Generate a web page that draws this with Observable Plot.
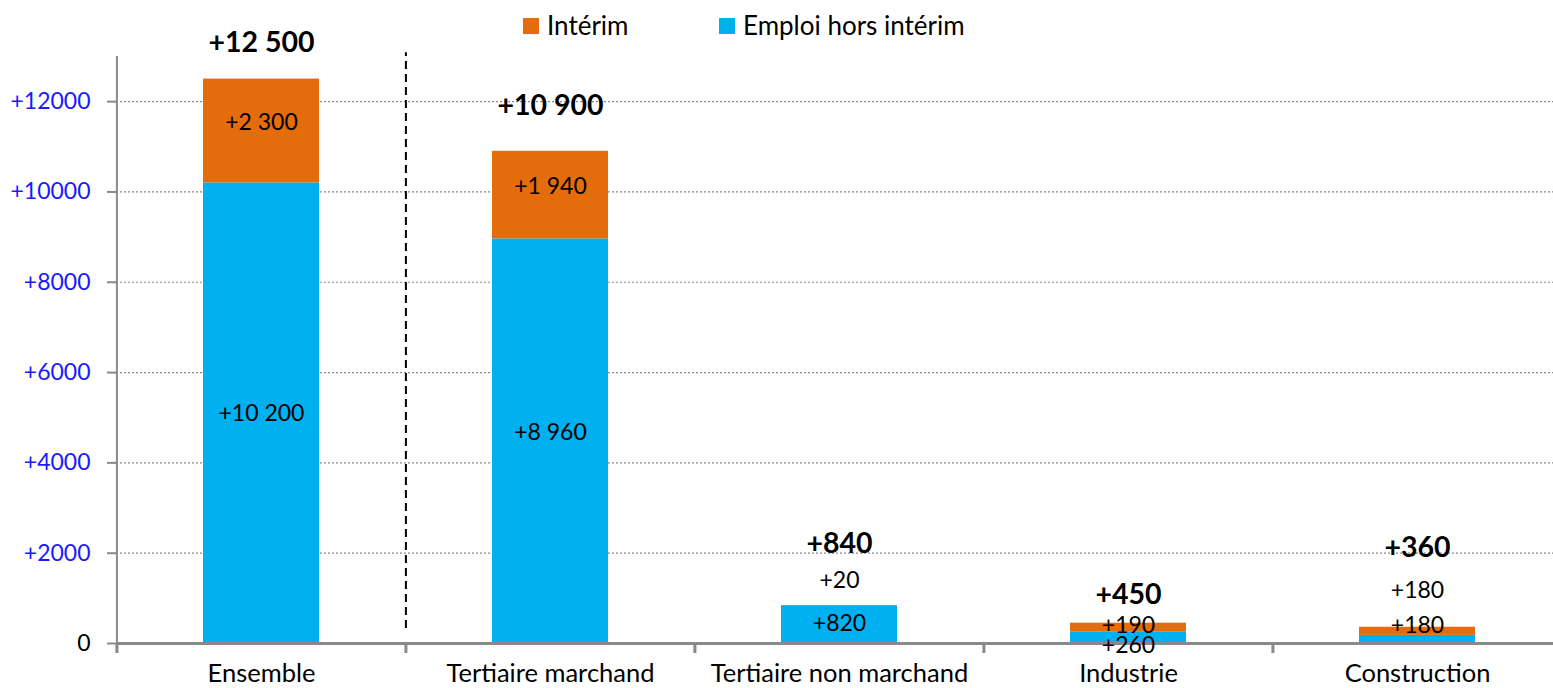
<!DOCTYPE html>
<html><head><meta charset="utf-8">
<script src="https://cdn.jsdelivr.net/npm/d3@7"></script>
<script src="https://cdn.jsdelivr.net/npm/@observablehq/plot@0.6"></script>
<style>
body{margin:0;background:#fff;}
#wrap{position:relative;width:1553px;height:688px;overflow:hidden;font-family:Lato,"Open Sans",sans-serif;}
#legend{position:absolute;top:0;left:0;width:1553px;height:50px;}
.sw{position:absolute;top:18px;width:16px;height:16px;}
.lt{position:absolute;top:8px;font-size:26px;line-height:34px;color:#000;white-space:nowrap;}
</style></head>
<body><div id="wrap"><div id="chart"></div><div id="legend"></div></div>
<script>
const categories = ["Ensemble", "Tertiaire marchand", "Tertiaire non marchand", "Industrie", "Construction"];
const seriesNames = ["Emploi hors intérim", "Intérim"];
const horsInterim = [10200, 8960, 820, 260, 180];
const interim = [2300, 1940, 20, 190, 180];
const totals = [12500, 10900, 840, 450, 360];
const totalLabels = ["+12 500", "+10 900", "+840", "+450", "+360"];
const interimLabels = ["+2 300", "+1 940", "+20", "+190", "+180"];
const horsLabels = ["+10 200", "+8 960", "+820", "+260", "+180"];
// label anchor values (in data units), as placed in the original
const totalLabelAt = [13305, 11911, 2214, 1085, 2125];
const interimLabelAt = [11534, 10117, 1395, 398, 1173];
const horsLabelAt = [5092, 4671, 443, -44, 398];
const yTicks = [0, 2000, 4000, 6000, 8000, 10000, 12000];
const yTickLabels = ["0", "+2000", "+4000", "+6000", "+8000", "+10000", "+12000"];
const separatorFrom = 330, separatorTo = 13084;

const colorOf = {"Intérim": "#E46C0A", "Emploi hors intérim": "#00B0F0"};

const W = 1553, H = 688, mL = 116, mR = -9, mT = 56, mB = 45;
const step = (W - mL - mR) / categories.length;

const rows = [];
categories.forEach((c, i) => rows.push({cat: c, series: "Emploi hors intérim", value: horsInterim[i]}));
categories.forEach((c, i) => rows.push({cat: c, series: "Intérim", value: interim[i]}));

const labelRows = categories.map((c, i) => ({cat: c, i}));

const gray = "#898989";

const chart = Plot.plot({
  width: W, height: H,
  marginLeft: mL, marginRight: mR, marginTop: mT, marginBottom: mB,
  style: {fontFamily: "Lato, 'Open Sans', sans-serif", fontSize: "23px", background: "white", overflow: "visible"},
  x: {domain: categories, paddingInner: 0.6, paddingOuter: 0.3, axis: null},
  y: {domain: [0, 13000], axis: null},
  color: {domain: seriesNames, range: seriesNames.map(s => colorOf[s])},
  marks: [
    Plot.ruleY(yTicks.filter(d => d !== 0), {y: d => d, stroke: gray, strokeWidth: 1.2, strokeDasharray: "2,2"}),
    Plot.barY(rows, {x: "cat", y: "value", fill: "series"}),
    // y axis line and ticks
    Plot.ruleX([categories[0]], {x: d => d, dx: -step / 2, y1: 0, y2: 13000, stroke: gray, strokeWidth: 2}),
    Plot.ruleY(yTicks, {y: d => d, insetLeft: -9, insetRight: W - mR - mL, stroke: gray, strokeWidth: 2}),
    // x axis line and ticks
    Plot.ruleY([0], {y: d => d, stroke: gray, strokeWidth: 3}),
    Plot.ruleX(categories, {x: d => d, dx: -step / 2, y1: 0, y2: 0, insetBottom: -10, stroke: gray, strokeWidth: 3}),
    // separator
    Plot.ruleX([categories[1]], {x: d => d, dx: -step / 2, y1: separatorFrom, y2: separatorTo, stroke: "black", strokeWidth: 2, strokeDasharray: "8,5"}),
    // y tick labels
    Plot.text(yTicks.filter(d => d !== 0), {y: d => d, text: d => yTickLabels[yTicks.indexOf(d)], frameAnchor: "left", dx: -26, textAnchor: "end", fill: "#1a1aff"}),
    Plot.text([0], {y: d => d, text: d => yTickLabels[yTicks.indexOf(d)], frameAnchor: "left", dx: -26, textAnchor: "end", fill: "black"}),
    // x tick labels
    Plot.text(categories, {x: d => d, text: d => d, frameAnchor: "bottom", dy: 38, fill: "black", fontSize: 25.5}),
    // value labels
    Plot.text(labelRows, {x: "cat", y: d => horsLabelAt[d.i], text: d => horsLabels[d.i], fill: "black"}),
    Plot.text(labelRows, {x: "cat", y: d => interimLabelAt[d.i], text: d => interimLabels[d.i], fill: "black"}),
    Plot.text(labelRows, {x: "cat", y: d => totalLabelAt[d.i], text: d => totalLabels[d.i], fill: "black", fontWeight: "bold", fontSize: 28.5})
  ]
});
document.getElementById("chart").appendChild(chart);

const legend = document.getElementById("legend");
const legendItems = [["Intérim", 523], ["Emploi hors intérim", 719]];
legendItems.forEach(([name, left]) => {
  const sw = document.createElement("div");
  sw.className = "sw"; sw.style.left = left + "px"; sw.style.background = colorOf[name];
  const t = document.createElement("div");
  t.className = "lt"; t.style.left = (left + 24) + "px"; t.textContent = name;
  legend.appendChild(sw); legend.appendChild(t);
});
</script>
</body></html>
